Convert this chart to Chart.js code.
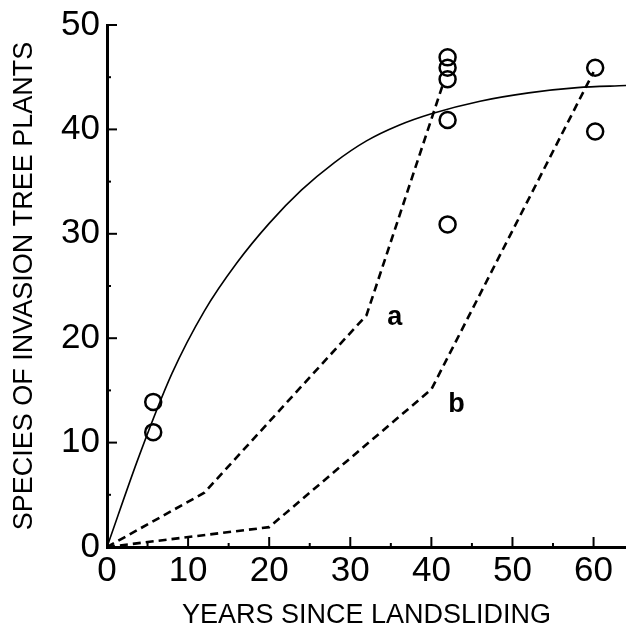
<!DOCTYPE html>
<html>
<head>
<meta charset="utf-8">
<script src="https://cdn.jsdelivr.net/npm/chart.js@4/dist/chart.umd.min.js"></script>
<style>
  html, body { margin:0; padding:0; background:#fff; }
  #wrap { width:626px; height:634px; }
</style>
</head>
<body>
<div id="wrap"><canvas id="chart" width="626" height="634"></canvas></div>
<script>
  // values
  const curveX = [0, 4, 8, 12, 16, 20, 24, 28, 32, 36, 40, 46, 52, 58, 64];
  const curveY = [0, 8.8, 16.6, 22.6, 27.2, 31.0, 34.2, 36.8, 38.9, 40.4, 41.5, 42.7, 43.5, 44.0, 44.2];

  const lineAX = [0, 12, 32, 41.5];
  const lineAY = [0, 5.2, 22.2, 44.5];
  const lineBX = [0, 20, 30, 40, 60];
  const lineBY = [0, 1.9, 8.5, 15.1, 45.5];

  const obsX = [5.7, 5.7, 42, 42, 42, 42, 42, 60.2, 60.2];
  const obsY = [13.9, 11, 46.9, 45.9, 44.8, 40.9, 30.9, 45.9, 39.8];

  const xTicks = [0, 10, 20, 30, 40, 50, 60];
  const yTicks = [0, 10, 20, 30, 40, 50];

  const curveLabels = [
    { text: 'a', x: 35.5, y: 21.3 },
    { text: 'b', x: 43.1, y: 12.9 }
  ];

  const pts = (xs, ys) => xs.map((x, i) => ({ x: x, y: ys[i] }));

  // inward tick marks, majors every 10, minors every 5
  const innerTicks = {
    id: 'innerTicks',
    afterDatasetsDraw(chart) {
      const { ctx, chartArea: a, scales: { x, y } } = chart;
      ctx.save();
      ctx.strokeStyle = '#000';
      ctx.lineWidth = 2;
      for (let v = 0; v <= 60; v += 5) {
        const px = x.getPixelForValue(v);
        const len = v % 10 === 0 ? 10 : 4;
        ctx.beginPath(); ctx.moveTo(px, a.bottom); ctx.lineTo(px, a.bottom - len); ctx.stroke();
      }
      for (let v = 0; v <= 50; v += 5) {
        const py = y.getPixelForValue(v);
        const len = v % 10 === 0 ? 10 : 4;
        ctx.beginPath(); ctx.moveTo(a.left, py); ctx.lineTo(a.left + len, py); ctx.stroke();
      }
      // curve letters
      ctx.fillStyle = '#000';
      ctx.font = 'bold 27px "Liberation Sans", Arial, sans-serif';
      ctx.textAlign = 'center';
      ctx.textBaseline = 'alphabetic';
      curveLabels.forEach(l => {
        ctx.fillText(l.text, x.getPixelForValue(l.x), y.getPixelForValue(l.y));
      });
      ctx.restore();
    }
  };

  const tickFont = { family: '"Liberation Sans", Arial, sans-serif', size: 35 };
  const titleFont = { family: '"Liberation Sans", Arial, sans-serif', size: 27 };

  new Chart(document.getElementById('chart'), {
    type: 'scatter',
    data: {
      datasets: [
        { type: 'line', data: pts(curveX, curveY), borderColor: '#000', borderWidth: 1.6,
          pointRadius: 0, cubicInterpolationMode: 'monotone', fill: false },
        { type: 'line', data: pts(lineAX, lineAY), borderColor: '#000', borderWidth: 2.6,
          borderDash: [8, 5], pointRadius: 0, tension: 0, fill: false },
        { type: 'line', data: pts(lineBX, lineBY), borderColor: '#000', borderWidth: 2.6,
          borderDash: [8, 5], pointRadius: 0, tension: 0, fill: false },
        { data: pts(obsX, obsY), pointRadius: 8, pointBorderWidth: 2.5,
          pointBorderColor: '#000', pointBackgroundColor: 'rgba(0,0,0,0)' }
      ]
    },
    options: {
      responsive: false,
      animation: false,
      layout: { autoPadding: false, padding: { top: 25, right: 0, left: 0, bottom: 0 } },
      plugins: { legend: { display: false }, tooltip: { enabled: false } },
      scales: {
        x: {
          type: 'linear', min: 0, max: 64,
          afterBuildTicks: s => { s.ticks = xTicks.map(v => ({ value: v })); },
          afterFit: s => { s.height = 87; s.paddingLeft = 0; s.paddingRight = 0; },
          grid: { display: false, drawTicks: false },
          border: { color: '#000', width: 3 },
          ticks: { color: '#000', font: tickFont, padding: 3, maxRotation: 0 },
          title: { display: true, text: 'YEARS SINCE LANDSLIDING', color: '#000',
                   font: titleFont, padding: { top: 0, bottom: 2 } }
        },
        y: {
          type: 'linear', min: 0, max: 50,
          afterBuildTicks: s => { s.ticks = yTicks.map(v => ({ value: v })); },
          afterFit: s => { s.width = 107; s.paddingTop = 0; s.paddingBottom = 0; },
          grid: { display: false, drawTicks: false },
          border: { color: '#000', width: 3 },
          ticks: { color: '#000', font: tickFont, padding: 7 },
          title: { display: true, text: 'SPECIES OF INVASION TREE PLANTS', color: '#000',
                   font: titleFont, padding: { top: 8, bottom: 0 } }
        }
      }
    },
    plugins: [innerTicks]
  });
</script>
</body>
</html>
